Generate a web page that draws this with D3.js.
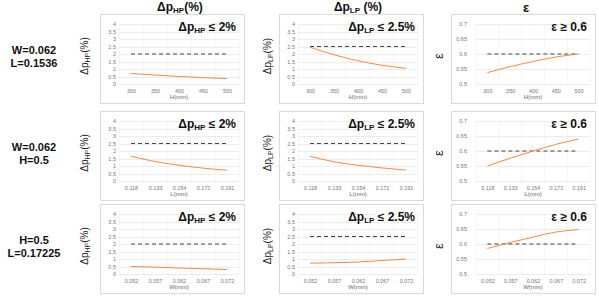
<!DOCTYPE html>
<html lang="en">
<head>
<meta charset="utf-8">
<title>Sensitivity panels</title>
<script src="https://cdn.jsdelivr.net/npm/d3@7"></script>
<style>
  body { margin: 0; background: #fff; }
  text { font-family: "Liberation Sans", Arial, sans-serif; }
</style>
</head>
<body>
<script>
// categories
var hCats = ["300", "350", "400", "450", "500"];
var lCats = ["0.118", "0.133", "0.154", "0.172", "0.191"];
var wCats = ["0.052", "0.057", "0.062", "0.067", "0.072"];

// series, one per panel (row = swept variable, col = output)
var dpHP_H = [0.7, 0.6, 0.5, 0.43, 0.36];
var dpLP_H = [2.45, 1.95, 1.55, 1.25, 1.05];
var eps_H  = [0.538, 0.558, 0.575, 0.59, 0.6];
var dpHP_L = [1.65, 1.3, 1.05, 0.86, 0.72];
var dpLP_L = [1.65, 1.28, 1.05, 0.87, 0.73];
var eps_L  = [0.55, 0.576, 0.6, 0.622, 0.64];
var dpHP_W = [0.5, 0.46, 0.4, 0.35, 0.3];
var dpLP_W = [0.72, 0.75, 0.8, 0.9, 1.0];
var eps_W  = [0.585, 0.605, 0.623, 0.64, 0.648];

// limits (dashed lines)
var limHP  = [2, 2.5, 2];
var limLP  = [2.5, 2.5, 2.5];
var limEps = [0.6, 0.6, 0.6];

// tick labels
var dpTicks  = [0, 0.5, 1, 1.5, 2, 2.5, 3, 3.5, 4];
var epsTicks = [0.5, 0.55, 0.6, 0.65, 0.7];

var rowCats   = [hCats, lCats, wCats];
var rowTitles = ["H(mm)", "L(mm)", "W(mm)"];
var rowLabels = [["W=0.062", "L=0.1536"], ["W=0.062", "H=0.5"], ["H=0.5", "L=0.17225"]];
var seriesGrid = [
  [dpHP_H, dpLP_H, eps_H],
  [dpHP_L, dpLP_L, eps_L],
  [dpHP_W, dpLP_W, eps_W]
];

var w = 599, h = 296;
var boxX = [100, 279, 451];
var boxY = [14, 111, 204];
var boxW = 144, boxH = 89;

var svg = d3.select("body").append("svg")
  .attr("width", w).attr("height", h);

// column headers
var headers = [["\u0394p", "HP", "(%)", 180], ["\u0394p", "LP", " (%)", 358], ["\u03b5", "", "", 526]];
headers.forEach(function(d) {
  var t = svg.append("text")
    .attr("x", d[3]).attr("y", d[1] ? 11 : 12)
    .attr("text-anchor", "middle")
    .attr("font-size", "12px").attr("font-weight", "bold").attr("fill", "#111");
  if (d[1]) {
    t.append("tspan").text(d[0]);
    t.append("tspan").attr("font-size", "8px").attr("dy", 2).text(d[1]);
    t.append("tspan").attr("dy", -2).text(d[2]);
  } else {
    t.attr("font-size", "13px").text(d[0]);
  }
});

// row labels
rowLabels.forEach(function(lines, r) {
  var cy = boxY[r] + boxH / 2 - 2;
  lines.forEach(function(s, k) {
    svg.append("text")
      .attr("x", 34).attr("y", cy + (k - 0.5) * 13 + 4)
      .attr("text-anchor", "middle")
      .attr("font-size", "11px").attr("font-weight", "bold").attr("fill", "#111")
      .text(s);
  });
});

for (var r = 0; r < 3; r++) {
  for (var c = 0; c < 3; c++) {
    drawPanel(r, c);
  }
}

function drawPanel(r, c) {
  var bx = boxX[c], by = boxY[r];
  var g = svg.append("g");
  var isEps = (c == 2);
  var cats = rowCats[r];
  var vals = seriesGrid[r][c];
  var ticks = isEps ? epsTicks : dpTicks;
  var limit = [limHP, limLP, limEps][c][r];

  g.append("rect")
    .attr("x", bx + 0.5).attr("y", by + 0.5)
    .attr("width", boxW).attr("height", boxH)
    .attr("fill", "#fff").attr("stroke", "#d9d9d9");

  var px0 = bx + (isEps ? 25 : 19), px1 = bx + 139;
  var xScale = d3.scalePoint().domain(cats).range([px0, px1]).padding(0.5);
  var yScale = d3.scaleLinear()
    .domain(isEps ? [0.5, 0.7] : [0, 4])
    .range([by + 70, by + 10]);

  // gridlines
  g.selectAll(".vgrid").data(d3.range(cats.length + 1)).enter().append("line")
    .attr("x1", function(i) { return px0 + i * (px1 - px0) / cats.length; })
    .attr("x2", function(i) { return px0 + i * (px1 - px0) / cats.length; })
    .attr("y1", yScale.range()[1]).attr("y2", yScale.range()[0])
    .attr("stroke", "#f4f4f4").attr("stroke-width", 1);
  g.selectAll(".hgrid").data(ticks).enter().append("line")
    .attr("x1", px0).attr("x2", px1)
    .attr("y1", function(d) { return Math.round(yScale(d)) + 0.5; })
    .attr("y2", function(d) { return Math.round(yScale(d)) + 0.5; })
    .attr("stroke", "#ececec").attr("stroke-width", 1);

  // axes
  var yAxis = d3.axisLeft(yScale).tickValues(ticks).tickSize(0).tickPadding(2)
    .tickFormat(function(d) { return String(+d.toFixed(2)); });
  var ya = g.append("g").attr("transform", "translate(" + (bx + 18) + ",0)").call(yAxis);
  ya.select(".domain").remove();
  ya.selectAll("text").attr("font-size", "5.5px").attr("fill", "#777")
    .attr("font-family", "Liberation Sans, Arial, sans-serif");

  var xAxis = d3.axisBottom(xScale).tickSize(0).tickPadding(0);
  var xa = g.append("g").attr("transform", "translate(0," + (by + 75) + ")").call(xAxis);
  xa.select(".domain").remove();
  xa.selectAll("text").attr("font-size", "5.5px").attr("fill", "#777")
    .attr("font-family", "Liberation Sans, Arial, sans-serif");

  g.append("text")
    .attr("x", (px0 + px1) / 2).attr("y", by + 85)
    .attr("text-anchor", "middle")
    .attr("font-size", "6px").attr("fill", "#666")
    .text(rowTitles[r]);

  // dashed limit
  g.append("line")
    .attr("x1", xScale(cats[0])).attr("x2", xScale(cats[cats.length - 1]))
    .attr("y1", yScale(limit)).attr("y2", yScale(limit))
    .attr("stroke", "#444").attr("stroke-width", 1)
    .attr("stroke-dasharray", "4,3");

  // series line
  var line = d3.line()
    .x(function(d, i) { return xScale(cats[i]); })
    .y(function(d) { return yScale(d); })
    .curve(d3.curveMonotoneX);
  g.append("path").datum(vals)
    .attr("d", line)
    .attr("fill", "none").attr("stroke", "#ef8a4a").attr("stroke-width", 1);

  // y axis title
  var yt = g.append("text")
    .attr("transform", "translate(" + (bx - (c == 0 ? 12 : 8)) + "," + (by + 42) + ") rotate(-90)")
    .attr("text-anchor", "middle").attr("fill", "#222");
  if (isEps) {
    yt.attr("font-size", "13px").text("\u03b5");
  } else {
    yt.attr("font-size", "10px");
    yt.append("tspan").text("\u0394p");
    yt.append("tspan").attr("font-size", "7px").attr("dy", 2).text(c == 0 ? "HP" : "LP");
    yt.append("tspan").attr("dy", -2).text("(%)");
  }

  // constraint annotation
  var at = g.append("text")
    .attr("x", bx + boxW - 8).attr("y", by + 17)
    .attr("text-anchor", "end")
    .attr("font-size", "12px").attr("font-weight", "bold").attr("fill", "#111");
  if (isEps) {
    at.text("\u03b5 \u2265 0.6");
  } else {
    at.append("tspan").text("\u0394p");
    at.append("tspan").attr("font-size", "8px").attr("dy", 2).text(c == 0 ? "HP" : "LP");
    at.append("tspan").attr("dy", -2).text(c == 0 ? " \u2264 2%" : " \u2264 2.5%");
  }
}
</script>
</body>
</html>
